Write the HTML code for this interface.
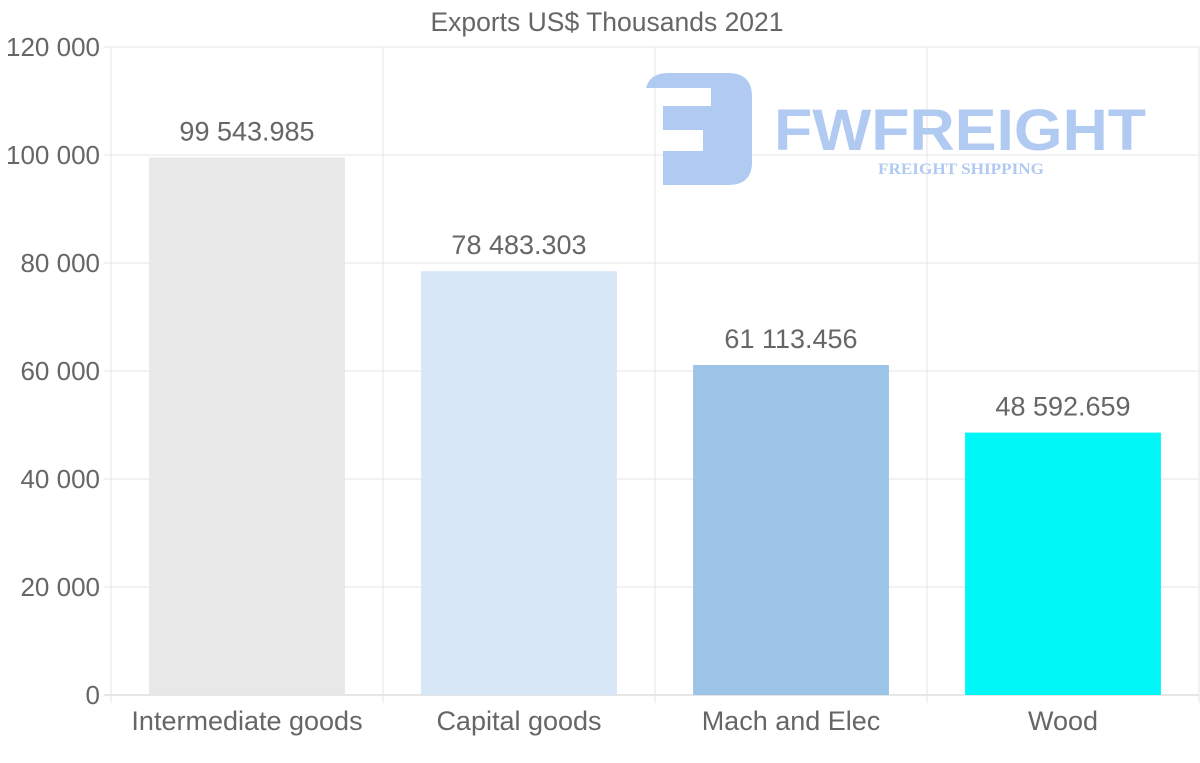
<!DOCTYPE html>
<html><head><meta charset="utf-8"><style>
body{margin:0;background:#fff;}
svg{display:block;font-family:"Liberation Sans",Arial,sans-serif;}
</style></head><body>
<svg id="chart" width="1200" height="763" viewBox="0 0 1200 763">
<g id="grid"></g>
<g id="logo">
 <path d="M646 88 Q650 73 668 73 L728 73 Q752 73 752 97 L752 162 Q752 185 728 185 L663 185 L663 151 L703 151 L703 130 L663 130 L663 106 L711 106 L711 88 Z" fill="#b0caf2"/>
 <text x="774" y="150" font-size="58" font-weight="bold" fill="#b0caf2" textLength="372" lengthAdjust="spacingAndGlyphs">FWFREIGHT</text>
 <text x="878" y="174" font-size="16" font-weight="bold" font-family="Liberation Serif,serif" fill="#b0caf2" textLength="166" lengthAdjust="spacingAndGlyphs">FREIGHT SHIPPING</text>
</g>
<g id="bars"></g><g id="labels"></g>
<text x="607" y="31" font-size="26.5" fill="#666" text-anchor="middle">Exports US$ Thousands 2021</text>
</svg>
<script>
const categories=["Intermediate goods","Capital goods","Mach and Elec","Wood"];
const values=[99543.985,78483.303,61113.456,48592.659];
const valueLabels=["99 543.985","78 483.303","61 113.456","48 592.659"];
const colors=["#e8e8e8","#d8e7f8","#9bc4e7","#00f7f7"];
const yTicks=[0,20000,40000,60000,80000,100000,120000];
const yTickLabels=["0","20 000","40 000","60 000","80 000","100 000","120 000"];
const NS="http://www.w3.org/2000/svg";
const L=111,R=1199,T=47,B=695,yMax=120000;
const y=v=>B-(v/yMax)*(B-T);
const bw=(R-L)/categories.length;
const x=i=>L+bw*i;
function mk(tag,a,parent){const e=document.createElementNS(NS,tag);for(const k in a)e.setAttribute(k,a[k]);document.getElementById(parent).appendChild(e);return e;}
yTicks.forEach((t,i)=>{
 const g=mk("line",{x1:104,x2:R,y1:y(t),y2:y(t),stroke:i==0?"#ccc":"#e6e6e6","stroke-width":1},"grid");
 
 
 const tx=mk("text",{x:100,y:y(t)+9,"font-size":26,fill:"#666","text-anchor":"end"},"labels");
 tx.textContent=yTickLabels[i];
 
 
});
for(let i=0;i<=categories.length;i++){
 const g=mk("line",{x1:x(i),x2:x(i),y1:T,y2:703,stroke:"#e6e6e6","stroke-width":1},"grid");
 
 
}
categories.forEach((c,i)=>{
 const w=bw*0.72,cx=x(i)+bw/2;
 const r=mk("rect",{x:cx-w/2,y:y(values[i]),width:w,height:B-y(values[i]),fill:colors[i]},"bars");
 
 
 const v=mk("text",{x:cx,y:y(values[i])-17,"font-size":27,fill:"#666","text-anchor":"middle"},"labels");
 v.textContent=valueLabels[i];
 
 
 const l=mk("text",{x:cx,y:730,"font-size":27,fill:"#666","text-anchor":"middle"},"labels");
 l.textContent=c;
 
 
});
</script>
</body></html>
